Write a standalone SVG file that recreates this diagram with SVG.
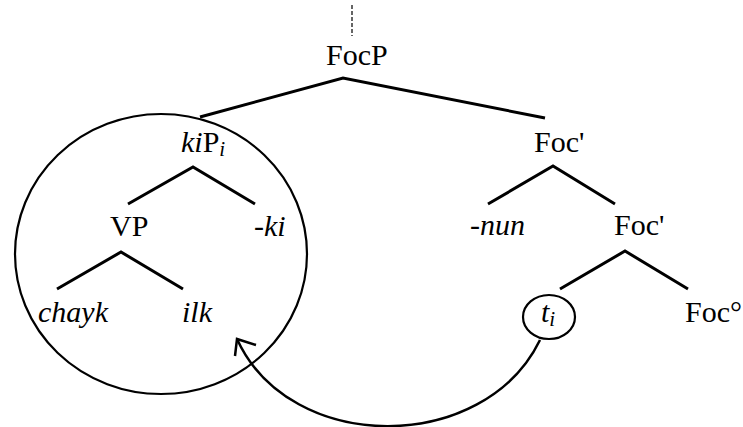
<svg xmlns="http://www.w3.org/2000/svg" width="743" height="427" viewBox="0 0 743 427" font-family="Liberation Serif, Times New Roman, serif">
<style>
text{font-family:'Liberation Serif','Times New Roman',serif;font-size:30px;fill:#000}
.it{font-style:italic}
.sub{font-size:21px;font-style:italic}
.br{fill:none;stroke:#000;stroke-width:3;stroke-linecap:butt;stroke-linejoin:miter}
.ring{fill:none;stroke:#000;stroke-width:2.2}
.mv{fill:none;stroke:#000;stroke-width:2.5}
</style>
<rect width="743" height="427" fill="#fff"/>
<g id="connectors">
<line x1="352" y1="5" x2="352" y2="36" stroke="#555" stroke-width="1.8" stroke-dasharray="4,2"/>
<polyline class="br" points="200,117 343,78 545,118"/>
<polyline class="br" points="128,204 193,167 255,204"/>
<polyline class="br" points="57,289 121,252 183,289"/>
<polyline class="br" points="488,204 553,166 615,204"/>
<polyline class="br" points="560,289 625,251 688,289"/>
<path class="mv" d="M540,340 C484,455 290,455 237,339"/>
<polyline class="mv" points="235,356 237,339 256,345"/>
</g>
<g id="kiP-circle"><ellipse class="ring" cx="161" cy="254" rx="146" ry="140"/></g>
<g id="FocP"><text x="326" y="65" font-family="Liberation Serif, serif">FocP</text></g>
<g id="kiP"><text x="181" y="152" font-family="Liberation Serif, serif"><tspan class="it">ki</tspan>P<tspan class="sub" dy="4">i</tspan></text></g>
<g id="FocBar1"><text x="534" y="152" font-family="Liberation Serif, serif">Foc'</text></g>
<g id="VP"><text x="110" y="236" font-family="Liberation Serif, serif">VP</text></g>
<g id="ki"><text class="it" x="254" y="236" font-family="Liberation Serif, serif">-ki</text></g>
<g id="nun"><text class="it" x="470" y="235" font-family="Liberation Serif, serif">-nun</text></g>
<g id="FocBar2"><text x="614" y="235" font-family="Liberation Serif, serif">Foc'</text></g>
<g id="chayk"><text class="it" x="38" y="322" font-family="Liberation Serif, serif">chayk</text></g>
<g id="ilk"><text class="it" x="182" y="322" font-family="Liberation Serif, serif">ilk</text></g>
<g id="trace"><ellipse class="ring" cx="549" cy="317" rx="26" ry="22"/><text class="it" x="541" y="322" font-family="Liberation Serif, serif">t<tspan class="sub" dy="4">i</tspan></text></g>
<g id="FocHead"><text x="685" y="322" font-family="Liberation Serif, serif">Foc°</text></g>
</svg>
